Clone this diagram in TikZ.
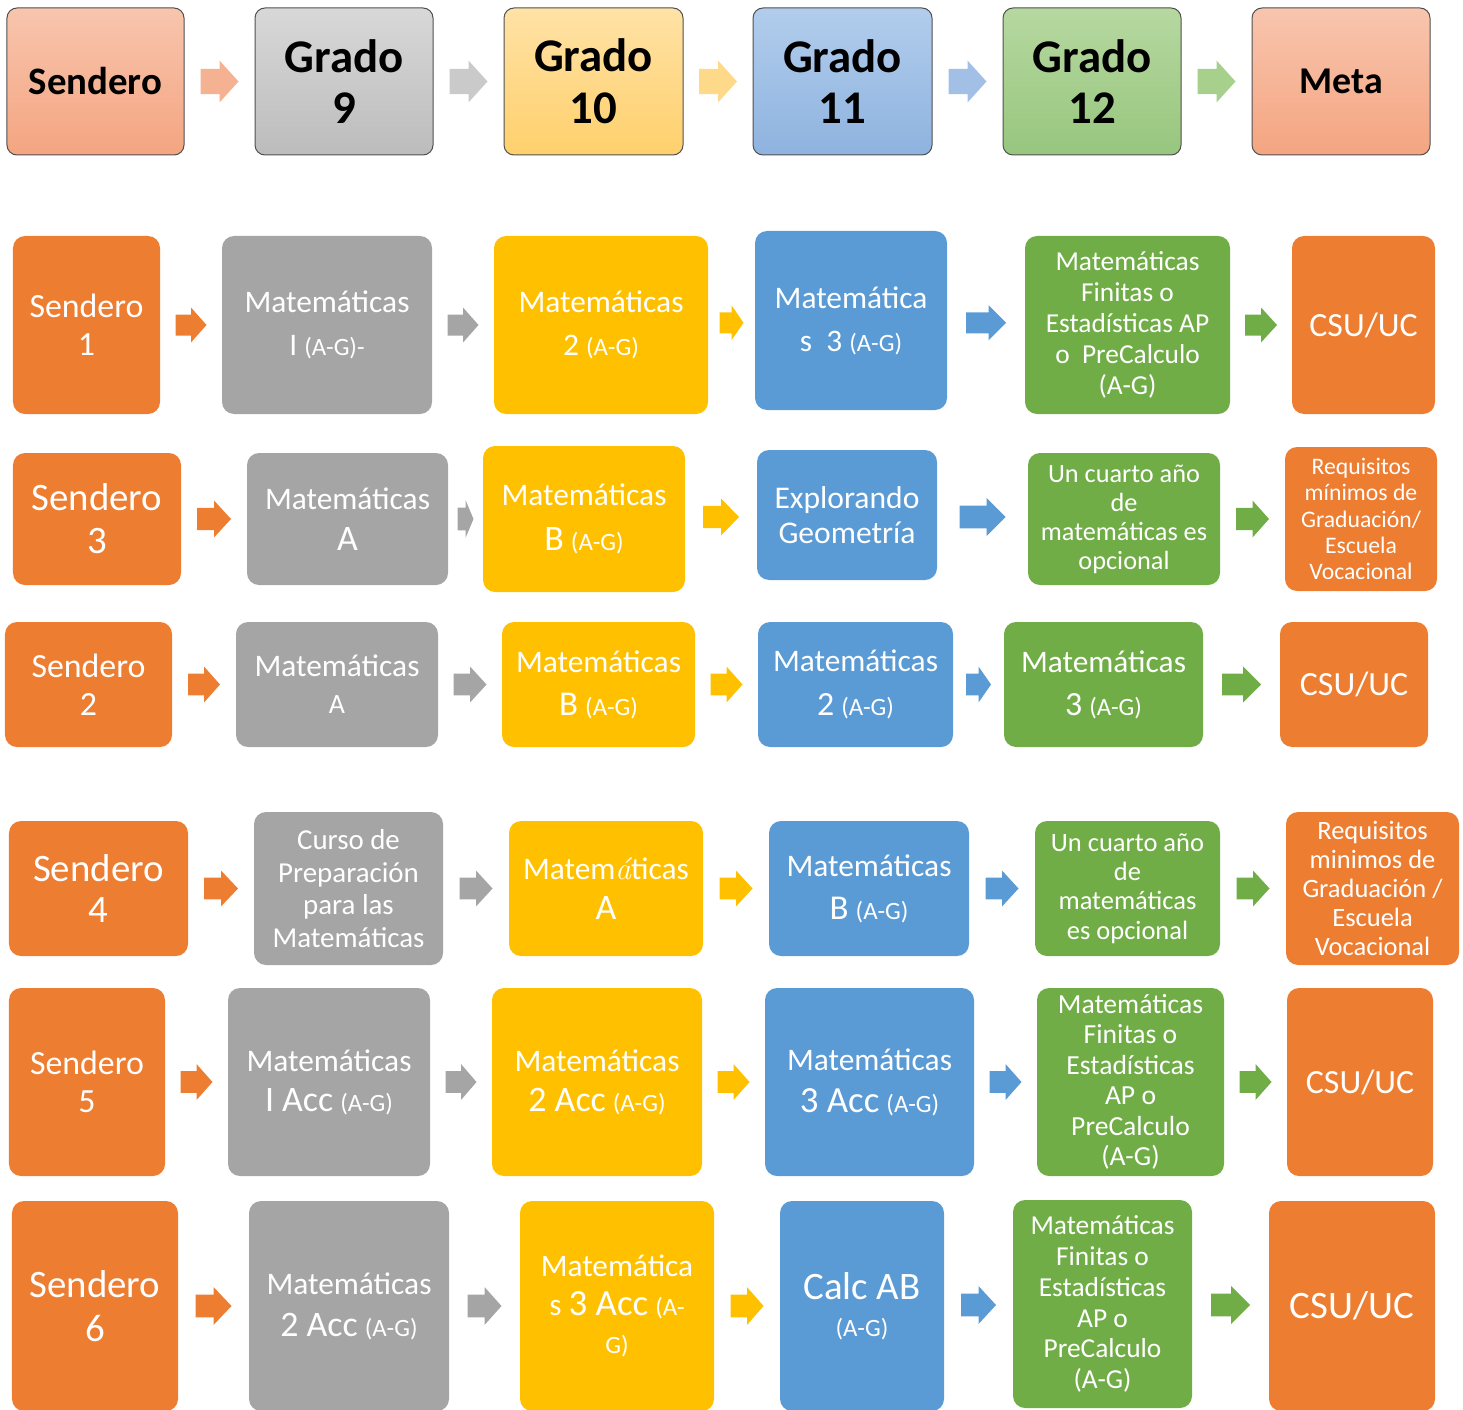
\documentclass[tikz,border=0pt]{standalone}
\usepackage{fontspec}
\setmainfont{Carlito}
\usetikzlibrary{positioning,calc}
\definecolor{orng}{HTML}{ED7D31}
\definecolor{gry}{HTML}{A5A5A5}
\definecolor{yel}{HTML}{FFC000}
\definecolor{blu}{HTML}{5B9BD5}
\definecolor{grn}{HTML}{70AD47}
\definecolor{hdrline}{HTML}{505050}
\definecolor{sendtop}{HTML}{F8C5AE}
\definecolor{sendbot}{HTML}{F4A580}
\definecolor{grytop}{HTML}{D8D8D8}
\definecolor{grybot}{HTML}{BCBCBC}
\definecolor{yeltop}{HTML}{FFE2A6}
\definecolor{yelbot}{HTML}{FFD06C}
\definecolor{blutop}{HTML}{B2CDEC}
\definecolor{blubot}{HTML}{8EB3DF}
\definecolor{grntop}{HTML}{B6D8A0}
\definecolor{grnbot}{HTML}{97C67E}
\definecolor{lightorng}{HTML}{F5B292}
\definecolor{lightgry}{HTML}{CACACA}
\definecolor{lightyel}{HTML}{FFD98A}
\definecolor{lightblu}{HTML}{A2C0E6}
\definecolor{lightgrn}{HTML}{A8D08D}
\newcommand{\fsz}[2]{\fontsize{#1}{#2}\selectfont}
\newcommand{\ag}[1][(A-G)]{{\fsz{25}{30}#1}}
\newcommand{\blockarrow}[5]{%
  \fill[#3,shift={($(#1.east)!0.5!(#2.west)$)}]
    ({-#4/2},{0.3*#5}) -- ({#4/2-min(#4,#5)/2},{0.3*#5}) -- ({#4/2-min(#4,#5)/2},{#5/2})
    -- ({#4/2},0) -- ({#4/2-min(#4,#5)/2},{-#5/2}) -- ({#4/2-min(#4,#5)/2},{-0.3*#5})
    -- ({-#4/2},{-0.3*#5}) -- cycle;}
\tikzset{
  hdrbox/.style={draw=hdrline,line width=1bp,rounded corners=10bp,minimum width=178bp,minimum height=147bp,inner sep=0pt,outer sep=0pt,align=center,font=\bfseries\fsz{47}{52}},
  sendhdr/.style={hdrbox,top color=sendtop,bottom color=sendbot},
  gryhdr/.style={hdrbox,top color=grytop,bottom color=grybot},
  yelhdr/.style={hdrbox,top color=yeltop,bottom color=yelbot},
  bluhdr/.style={hdrbox,top color=blutop,bottom color=blubot},
  grnhdr/.style={hdrbox,top color=grntop,bottom color=grnbot},
  box/.style={rounded corners=12bp,inner sep=0pt,outer sep=0pt,align=center,text=white},
  orngbox/.style={box,fill=orng},
  grybox/.style={box,fill=gry},
  yelbox/.style={box,fill=yel},
  blubox/.style={box,fill=blu},
  grnbox/.style={box,fill=grn}}
\begin{document}
\begin{tikzpicture}[x=1bp,y=1bp]
  \clip (0,0) rectangle (1463,-1410);
  % grades
  \node[sendhdr,minimum width=177bp,font=\bfseries\fsz{39}{44}] (hsend) at (95.5,-81.5) {Sendero};
  \node[gryhdr,right=71bp of hsend] (g9) {Grado\\9};
  \node[yelhdr,minimum width=179bp,right=71bp of g9] (g10) {Grado\\10};
  \node[bluhdr,minimum width=179bp,right=70bp of g10] (g11) {Grado\\11};
  \node[grnhdr,right=71bp of g11] (g12) {Grado\\12};
  \node[sendhdr,right=71bp of g12,font=\bfseries\fsz{38}{44}] (meta) {Meta};
  \blockarrow{hsend}{g9}{lightorng}{38}{42}
  \blockarrow{g9}{g10}{lightgry}{38}{42}
  \blockarrow{g10}{g11}{lightyel}{38}{42}
  \blockarrow{g11}{g12}{lightblu}{38}{42}
  \blockarrow{g12}{meta}{lightgrn}{38}{42}
  % sendero 1
  \node[orngbox,minimum width=147bp,minimum height=178bp,font=\fsz{34}{38}] (s1) at (86.5,-325) {Sendero\\1};
  \node[grybox,minimum width=210bp,minimum height=178bp,font=\fsz{31.5}{43},right=62bp of s1] (s1g9) {Matemáticas\\I \ag[(A-G)-]};
  \node[yelbox,minimum width=214bp,minimum height=178bp,font=\fsz{31.5}{43},right=62bp of s1g9] (s1g10) {Matemáticas\\2 \ag};
  \node[blubox,minimum width=192bp,minimum height=179bp,font=\fsz{31.5}{43},right=47bp of s1g10,yshift=4.5bp] (s1g11) {Matemática\\s\ \ 3 \ag};
  \node[grnbox,minimum width=205bp,minimum height=178bp,font=\fsz{27.5}{31},right=78bp of s1g11,yshift=-4.5bp] (s1g12) {Matemáticas\\Finitas o\\Estadísticas AP\\o\ \ PreCalculo\\(A-G)};
  \node[orngbox,minimum width=143bp,minimum height=178bp,font=\fsz{34}{40},right=62bp of s1g12] (s1meta) {CSU/UC};
  \blockarrow{s1}{s1g9}{orng}{31}{35}
  \blockarrow{s1g9}{s1g10}{gry}{31}{35}
  \blockarrow{s1g10}{s1g11}{yel}{24}{35}
  \blockarrow{s1g11}{s1g12}{blu}{40}{35}
  \blockarrow{s1g12}{s1meta}{grn}{32}{35}
  % sendero 3
  \node[orngbox,minimum width=168bp,minimum height=132bp,font=\fsz{39}{43}] (s3) at (97,-519) {Sendero\\3};
  \node[grybox,minimum width=201bp,minimum height=132bp,font=\fsz{31.5}{41},right=66bp of s3] (s3g9) {Matemáticas\\{\fsz{36}{41}A}};
  \node[yelbox,minimum width=202bp,minimum height=146bp,font=\fsz{31.5}{45},right=35bp of s3g9] (s3g10) {Matemáticas\\{\fsz{36}{45}B} \ag};
  \node[blubox,minimum width=180bp,minimum height=130bp,font=\fsz{31.7}{35},right=72bp of s3g10,yshift=4bp] (s3g11) {Explorando\\Geometría};
  \node[grnbox,minimum width=192bp,minimum height=132bp,font=\fsz{26.4}{29},right=91bp of s3g11,yshift=-4bp] (s3g12) {Un cuarto año\\de\\matemáticas es\\opcional};
  \node[orngbox,minimum width=152bp,minimum height=144bp,font=\fsz{23.8}{26.5},right=65bp of s3g12] (s3meta) {Requisitos\\mínimos de\\Graduación/\\Escuela\\Vocacional};
  \blockarrow{s3}{s3g9}{orng}{34}{37}
  \blockarrow{s3g9}{s3g10}{gry}{16}{38}
  \blockarrow{s3g10}{s3g11}{yel}{36}{37}
  \blockarrow{s3g11}{s3g12}{blu}{46}{38}
  \blockarrow{s3g12}{s3meta}{grn}{33}{37}
  % sendero 2
  \node[orngbox,minimum width=167bp,minimum height=125bp,font=\fsz{34}{38}] (s2) at (88.5,-684.5) {Sendero\\2};
  \node[grybox,minimum width=202bp,minimum height=125bp,font=\fsz{31.5}{37},right=64bp of s2] (s2g9) {Matemáticas\\{\fsz{28}{37}A}};
  \node[yelbox,minimum width=193bp,minimum height=125bp,font=\fsz{31.5}{43},right=64bp of s2g9] (s2g10) {Matemáticas\\{\fsz{35}{43}B} \ag};
  \node[blubox,minimum width=195bp,minimum height=125bp,font=\fsz{31.5}{44},right=63bp of s2g10] (s2g11) {Matemáticas\\{\fsz{34}{44}2} \ag};
  \node[grnbox,minimum width=199bp,minimum height=125bp,font=\fsz{31.5}{43},right=51bp of s2g11] (s2g12) {Matemáticas\\{\fsz{34}{43}3} \ag};
  \node[orngbox,minimum width=148bp,minimum height=125bp,font=\fsz{34}{40},right=77bp of s2g12] (s2meta) {CSU/UC};
  \blockarrow{s2}{s2g9}{orng}{32}{36}
  \blockarrow{s2g9}{s2g10}{gry}{33}{36}
  \blockarrow{s2g10}{s2g11}{yel}{32}{36}
  \blockarrow{s2g11}{s2g12}{blu}{25}{36}
  \blockarrow{s2g12}{s2meta}{grn}{39}{36}
  % sendero 4
  \node[orngbox,minimum width=179bp,minimum height=135bp,font=\fsz{39}{42}] (s4) at (98.5,-888.5) {Sendero\\4};
  \node[grybox,minimum width=189bp,minimum height=153bp,font=\fsz{29}{32.5},right=66bp of s4] (s4g9) {Curso de\\Preparación\\para las\\Matemáticas};
  \node[yelbox,minimum width=194bp,minimum height=135bp,font=\fsz{31.5}{40},right=66bp of s4g9] (s4g10) {Matem{\fontfamily{lmr}\itshape\selectfont á}ticas\\{\fsz{36}{40}A}};
  \node[blubox,minimum width=200bp,minimum height=135bp,font=\fsz{31.5}{43},right=66bp of s4g10] (s4g11) {Matemáticas\\{\fsz{35}{43}B} \ag};
  \node[grnbox,minimum width=185bp,minimum height=135bp,font=\fsz{26.6}{29.5},right=66bp of s4g11] (s4g12) {Un cuarto año\\de\\matemáticas\\es opcional};
  \node[orngbox,minimum width=173bp,minimum height=153bp,font=\fsz{26.6}{29.3},right=66bp of s4g12] (s4meta) {Requisitos\\minimos de\\Graduación /\\Escuela\\Vocacional};
  \blockarrow{s4}{s4g9}{orng}{34}{36}
  \blockarrow{s4g9}{s4g10}{gry}{33}{36}
  \blockarrow{s4g10}{s4g11}{yel}{33}{36}
  \blockarrow{s4g11}{s4g12}{blu}{33}{36}
  \blockarrow{s4g12}{s4meta}{grn}{33}{36}
  % sendero 5
  \node[orngbox,minimum width=156bp,minimum height=188bp,font=\fsz{34}{38}] (s5) at (87,-1082) {Sendero\\5};
  \node[grybox,minimum width=202bp,minimum height=188bp,font=\fsz{31.5}{40},right=63bp of s5] (s5g9) {Matemáticas\\{\fsz{36}{40}I Acc} \ag};
  \node[yelbox,minimum width=210bp,minimum height=188bp,font=\fsz{31.5}{40},right=62bp of s5g9] (s5g10) {Matemáticas\\{\fsz{36}{40}2 Acc} \ag};
  \node[blubox,minimum width=209bp,minimum height=188bp,font=\fsz{31.5}{42},right=63bp of s5g10] (s5g11) {Matemáticas\\{\fsz{37}{42}3 Acc} \ag};
  \node[grnbox,minimum width=187bp,minimum height=188bp,font=\fsz{27.7}{30.6},right=63bp of s5g11] (s5g12) {Matemáticas\\Finitas o\\Estadísticas\\AP o\\PreCalculo\\(A-G)};
  \node[orngbox,minimum width=146bp,minimum height=188bp,font=\fsz{34}{40},right=63bp of s5g12] (s5meta) {CSU/UC};
  \blockarrow{s5}{s5g9}{orng}{32}{36}
  \blockarrow{s5g9}{s5g10}{gry}{31}{36}
  \blockarrow{s5g10}{s5g11}{yel}{32}{36}
  \blockarrow{s5g11}{s5g12}{blu}{32}{36}
  \blockarrow{s5g12}{s5meta}{grn}{32}{36}
  % sendero 6
  \node[orngbox,minimum width=166bp,minimum height=210bp,font=\fsz{39}{44}] (s6) at (95,-1306) {Sendero\\6};
  \node[grybox,minimum width=200bp,minimum height=210bp,font=\fsz{31.5}{42},right=71bp of s6] (s6g9) {Matemáticas\\{\fsz{36}{42}2 Acc} \ag};
  \node[yelbox,minimum width=194bp,minimum height=210bp,font=\fsz{31.4}{38.5},right=71bp of s6g9] (s6g10) {Matemática\\s {\fsz{37}{38.5}3 Acc} \ag[(A-]\\\ag[G)]};
  \node[blubox,minimum width=164bp,minimum height=210bp,font=\fsz{39}{37},right=66bp of s6g10] (s6g11) {Calc AB\\\ag};
  \node[grnbox,minimum width=179bp,minimum height=208bp,font=\fsz{27.5}{31},right=69bp of s6g11,yshift=2bp] (s6g12) {Matemáticas\\Finitas o\\Estadísticas\\AP o\\PreCalculo\\(A-G)};
  \node[orngbox,minimum width=166bp,minimum height=210bp,font=\fsz{39}{44},right=77bp of s6g12,yshift=-2bp] (s6meta) {CSU/UC};
  \blockarrow{s6}{s6g9}{orng}{36}{38}
  \blockarrow{s6g9}{s6g10}{gry}{34}{38}
  \blockarrow{s6g10}{s6g11}{yel}{33}{38}
  \blockarrow{s6g11}{s6g12}{blu}{35}{38}
  \blockarrow{s6g12}{s6meta}{grn}{39}{38}
\end{tikzpicture}
\end{document}
